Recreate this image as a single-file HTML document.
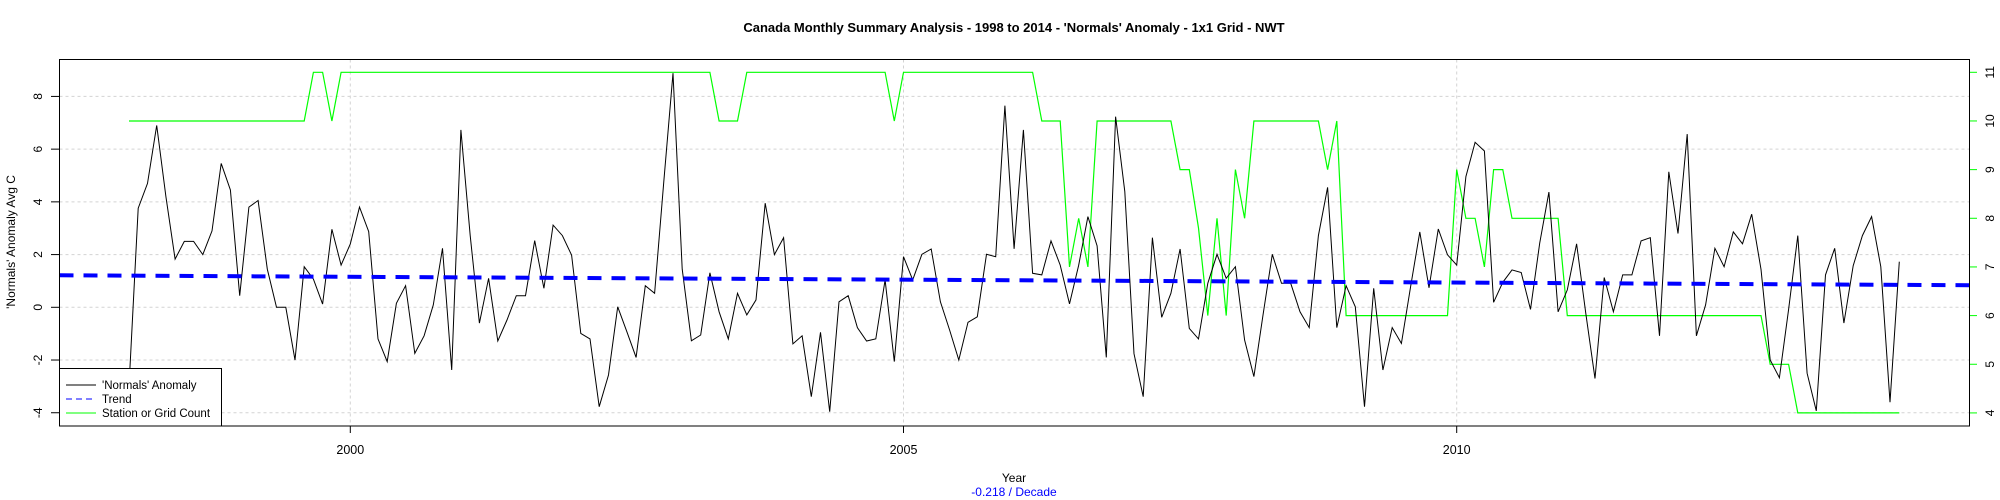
<!DOCTYPE html>
<html><head><meta charset="utf-8"><style>
html,body{margin:0;padding:0;background:#fff;}
svg{display:block;font-family:"Liberation Sans",Arial,sans-serif;}
</style></head><body>
<svg id="chart" width="2000" height="500" viewBox="0 0 2000 500" xmlns="http://www.w3.org/2000/svg">
<text x="1014" y="32" text-anchor="middle" font-size="13" font-weight="bold">Canada Monthly Summary Analysis - 1998 to 2014 - 'Normals' Anomaly - 1x1 Grid - NWT</text>
<g id="grid"></g>
<g id="axes"></g>
<g id="series"></g>
<rect x="59.5" y="59.5" width="1910" height="366.5" fill="none" stroke="#000" stroke-width="1"/>
<text x="1014" y="482" text-anchor="middle" font-size="12">Year</text>
<text x="1014" y="496" text-anchor="middle" font-size="12" fill="#0000ff">-0.218  / Decade</text>
<text transform="translate(15,242) rotate(-90)" text-anchor="middle" font-size="12">'Normals' Anomaly Avg C</text>
<g>
<rect x="59.5" y="368.5" width="162" height="57.5" fill="#fff" stroke="#000"/>
<line x1="66" y1="385" x2="96" y2="385" stroke="#000"/>
<text x="102" y="389" font-size="11.5">'Normals' Anomaly</text>
<line x1="66" y1="399" x2="96" y2="399" stroke="#0000ff" stroke-dasharray="6,4"/>
<text x="102" y="403" font-size="11.5">Trend</text>
<line x1="66" y1="413" x2="96" y2="413" stroke="#00ff00"/>
<text x="102" y="417" font-size="11.5">Station or Grid Count</text>
</g>
</svg>
<script>
const anomalyValues = [-3,3.76,4.7,6.9,4.2,1.83,2.5,2.5,2.0,2.9,5.46,4.45,0.44,3.8,4.05,1.45,0,0,-2.0,1.54,1.07,0.12,2.96,1.6,2.4,3.8,2.87,-1.2,-2.06,0.15,0.82,-1.75,-1.08,0.09,2.24,-2.38,6.73,2.72,-0.6,1.1,-1.28,-0.48,0.44,0.44,2.53,0.72,3.12,2.72,1.98,-0.99,-1.2,-3.77,-2.57,0.02,-0.93,-1.9,0.82,0.53,4.77,8.88,1.45,-1.27,-1.05,1.31,-0.17,-1.2,0.53,-0.29,0.28,3.95,2.0,2.64,-1.39,-1.08,-3.39,-0.95,-3.96,0.21,0.44,-0.77,-1.28,-1.2,1.04,-2.06,1.92,1.04,2.01,2.21,0.21,-0.86,-2.0,-0.57,-0.36,2.01,1.92,7.65,2.22,6.73,1.29,1.23,2.52,1.6,0.13,1.6,3.44,2.33,-1.9,7.23,4.39,-1.76,-3.39,2.64,-0.38,0.53,2.21,-0.8,-1.2,0.91,2.01,1.1,1.54,-1.24,-2.63,-0.27,2.01,0.91,0.91,-0.17,-0.77,2.72,4.55,-0.77,0.82,0.02,-3.77,0.72,-2.38,-0.77,-1.37,0.78,2.86,0.74,2.97,1.99,1.6,4.96,6.26,5.93,0.19,0.95,1.42,1.32,-0.08,2.43,4.37,-0.17,0.66,2.41,-0.23,-2.7,1.13,-0.17,1.23,1.23,2.52,2.64,-1.08,5.14,2.8,6.57,-1.08,0.09,2.24,1.54,2.86,2.41,3.53,1.44,-2.0,-2.67,-0.08,2.72,-2.5,-3.93,1.23,2.24,-0.6,1.58,2.72,3.44,1.54,-3.6,1.73];
const startYear = 1998;
const countMonths = [0,19,20,21,22,23,63,64,66,67,82,83,84,98,99,101,102,103,104,105,113,114,115,116,117,118,119,120,121,122,129,130,131,132,143,144,145,146,147,148,149,150,155,156,177,178,180,181,192];
const countValues = [10,10,11,11,10,11,11,10,10,11,11,10,11,11,10,10,7,8,7,10,10,9,9,7.8,6,8,6,9,8,10,10,9,10,6,6,9,8,8,7,9,9,8,8,6,6,5,5,4,4];
const trendIntercept = 1.2;
const trendPerDecade = -0.218;
const xTicks = [2000,2005,2010];
const leftTicks = [-4,-2,0,2,4,6,8];
const rightTicks = [4,5,6,7,8,9,10,11];

const NS='http://www.w3.org/2000/svg';
const PL=59.5, PR=1969.5, PT=59.5, PB=426;
const xScale = y => 350.3 + (y-2000)*110.64;
const yL = v => 307.3 - v*26.36;
const yR = v => 72.3 + (11-v)*48.66;
function mk(tag, attrs, parent){const e=document.createElementNS(NS,tag);for(const k in attrs)e.setAttribute(k,attrs[k]);parent.appendChild(e);return e;}
const grid=document.getElementById('grid'), axes=document.getElementById('axes'), series=document.getElementById('series');

leftTicks.forEach(t=>{
  const y=yL(t);
  const g=mk('line',{x1:PL,x2:PR,y1:y,y2:y,stroke:'#d3d3d3','stroke-dasharray':'3,3'},grid);
  
  
  const tk=mk('line',{x1:51,x2:PL,y1:y,y2:y,stroke:'#000'},axes);
  
  
  const tx=mk('text',{transform:`translate(42,${y}) rotate(-90)`,'text-anchor':'middle','font-size':'12'},axes);
  tx.textContent=String(t);
  
  
});
xTicks.forEach(t=>{
  const x=xScale(t);
  const g=mk('line',{x1:x,x2:x,y1:PT,y2:PB,stroke:'#d3d3d3','stroke-dasharray':'3,3'},grid);
  
  
  const tk=mk('line',{x1:x,x2:x,y1:PB,y2:433,stroke:'#000'},axes);
  
  
  const tx=mk('text',{x:x,y:454,'text-anchor':'middle','font-size':'12.5'},axes);
  tx.textContent=String(t);
  
  
});
const ra=mk('line',{x1:PR,x2:PR,y1:yR(11),y2:yR(4),stroke:'#00ff00'},axes);


rightTicks.forEach(t=>{
  const y=yR(t);
  const tk=mk('line',{x1:PR,x2:1977,y1:y,y2:y,stroke:'#00ff00'},axes);
  
  
  const tx=mk('text',{transform:`translate(1994,${y}) rotate(-90)`,'text-anchor':'middle','font-size':'12'},axes);
  tx.textContent=String(t);
  
  
});

// station count
const cp=countMonths.map((m,i)=>xScale(startYear+m/12).toFixed(1)+','+yR(countValues[i]).toFixed(1)).join(' ');
const cl=mk('polyline',{points:cp,fill:'none',stroke:'#00ff00','stroke-width':'1.2'},series);



// anomaly
const ap=anomalyValues.map((v,i)=>xScale(startYear+i/12).toFixed(1)+','+yL(v).toFixed(1)).join(' ');
const al=mk('polyline',{points:ap,fill:'none',stroke:'#000','stroke-width':'1'},series);



// trend
const tAt = x => trendIntercept + trendPerDecade/10*((2000+(x-350.3)/110.64)-startYear);
const tl=mk('line',{x1:PL,x2:PR,y1:yL(tAt(PL)),y2:yL(tAt(PR)),stroke:'#0000ff','stroke-width':'4','stroke-dasharray':'14,10'},series);


</script>
</body></html>
